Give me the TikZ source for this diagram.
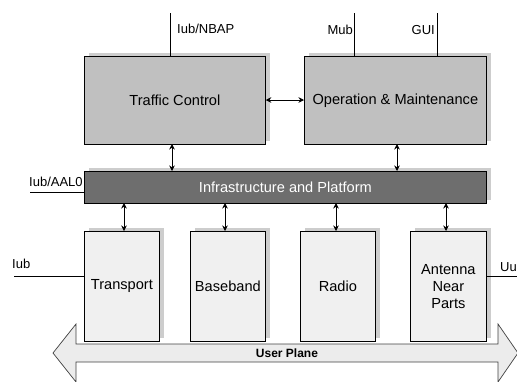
\documentclass[tikz,border=0pt]{standalone}
\usepackage{fontspec}
\setmainfont{Liberation Sans}
\usetikzlibrary{arrows.meta,shadows}
\definecolor{boxgray}{HTML}{C0C0C0}
\definecolor{shadegray}{HTML}{CDCDCD}
\definecolor{darkbox}{HTML}{6E6E6E}
\definecolor{paleb}{HTML}{F0F0F0}
\definecolor{planefill}{HTML}{ECECEC}
\definecolor{edgegray}{HTML}{404040}
\tikzset{
  x=1pt, y=-1pt,
  shade/.style={drop shadow={shadow xshift=4.5pt, shadow yshift=3.5pt, fill=shadegray, opacity=1}},
  blockbox/.style={draw=black, line width=0.75pt, anchor=north west, inner sep=0pt,
    font=\fontsize{14.6}{17}\selectfont, shade},
  topbox/.style={blockbox, fill=boxgray},
  lowbox/.style={blockbox, fill=paleb, align=center},
  infrabox/.style={blockbox, fill=darkbox, text=white},
  lbl/.style={font=\fontsize{13}{15}\selectfont, inner sep=0pt},
  link/.style={line width=0.8pt, {Stealth[length=5.5pt,width=5.5pt]}-{Stealth[length=5.5pt,width=5.5pt]}},
  wire/.style={line width=0.65pt}
}
\begin{document}
\begin{tikzpicture}
\useasboundingbox (0,0) rectangle (517,381);

% upper control blocks
\node[topbox, minimum width=181pt, minimum height=88pt] (tc) at (84,56) {Traffic Control};
\node[topbox, minimum width=182pt, minimum height=88pt] (om) at (304,56) {Operation \& Maintenance};

% platform layer
\node[infrabox, minimum width=402pt, minimum height=32pt] (ip) at (84,171) {Infrastructure and Platform};

% lower blocks
\node[lowbox, minimum width=75pt, minimum height=110pt] (tr) at (84,231) {Transport};
\node[lowbox, minimum width=75pt, minimum height=110pt] (bb) at (190,231) {Baseband};
\node[lowbox, minimum width=75pt, minimum height=110pt] (ra) at (300,231) {Radio};
\node[lowbox, minimum width=76pt, minimum height=110pt] (an) at (410,231) {Antenna\\Near\\Parts};

% interface end points
\coordinate (nbapT) at (170,13);
\coordinate (mubT) at (354,13);
\coordinate (guiT) at (437,13);
\coordinate (aalL) at (30,192);
\coordinate (iubL) at (14,276);
\coordinate (uuR) at (517,276);

% external interfaces
\draw[wire] (nbapT) -- (nbapT |- tc.north);
\draw[wire] (mubT) -- (mubT |- om.north);
\draw[wire] (guiT) -- (guiT |- om.north);
\draw[wire] (aalL) -- (aalL -| ip.west);
\draw[wire] (iubL) -- (iubL -| tr.west);
\draw[wire] (uuR) -- (uuR -| an.east);

\node[lbl, anchor=west] (nbapL) at (177,29) {Iub/NBAP};
\node[lbl, anchor=east] (mubL) at (353,30) {Mub};
\node[lbl, anchor=east] (guiL) at (435,30) {GUI};
\node[lbl, anchor=west] (aalT) at (29,182) {Iub/AAL0};
\node[lbl, anchor=west] (iubT) at (12,264) {Iub};
\node[lbl, anchor=west] (uuT) at (500,267) {Uu};

% internal links
\draw[link] (tc.east |- 0,100) -- (om.west |- 0,100);
\draw[link] (172,144) -- (172,171);
\draw[link] (397,144) -- (397,171);
\draw[link] (124,203) -- (124,231);
\draw[link] (225,203) -- (225,231);
\draw[link] (336,203) -- (336,231);
\draw[link] (446,203) -- (446,231);

% user plane double arrow
\draw[fill=planefill, draw=edgegray, line width=0.7pt, line join=miter]
  (53,353) -- (76,324) -- (76,344) -- (498,344) -- (498,324) -- (518,353)
  -- (498,382) -- (498,362) -- (76,362) -- (76,382) -- cycle;
\node[font=\bfseries\fontsize{12}{14}\selectfont, inner sep=0pt] (up) at (287,353) {User Plane};
\end{tikzpicture}
\end{document}
